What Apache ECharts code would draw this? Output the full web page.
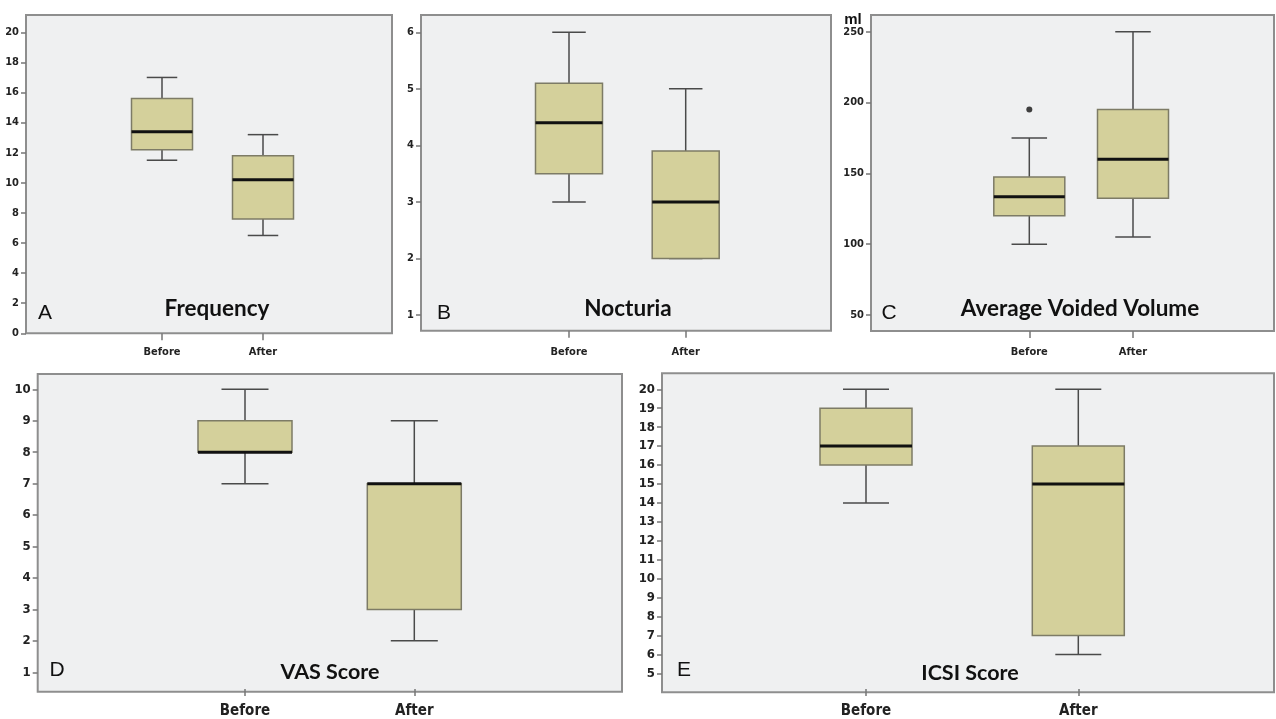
<!DOCTYPE html>
<html>
<head>
<meta charset="utf-8">
<script src="https://cdn.jsdelivr.net/npm/echarts@6/dist/echarts.min.js"></script>
<style>
  html, body { margin: 0; padding: 0; background: #ffffff; }
  #chart { width: 1276px; height: 719px; }
</style>
</head>
<body>
<div id="chart"></div>
<script>
// ---- data: [min, Q1, median, Q3, max] ----
const categories = ['Before', 'After'];
const frequencyBefore = [11.5, 12.2, 13.4, 15.6, 17.0];
const frequencyAfter  = [6.5, 7.6, 10.2, 11.8, 13.2];
const nocturiaBefore  = [3.0, 3.5, 4.4, 5.1, 6.0];
const nocturiaAfter   = [2.0, 2.0, 3.0, 3.9, 5.0];
const volumeBefore    = [100, 120, 133.5, 147.5, 175];
const volumeAfter     = [105, 132.5, 160, 195, 250];
const volumeOutliers  = [['Before', 195]];
const vasBefore       = [7, 8, 8, 9, 10];
const vasAfter        = [2, 3, 7, 7, 9];
const icsiBefore      = [14, 16, 17, 19, 20];
const icsiAfter       = [6, 7, 15, 17, 20];

// ---- axis ranges: [min, max, interval] ----
const frequencyTicks = [0, 20, 2];
const nocturiaTicks  = [1, 6, 1];
const volumeTicks    = [50, 250, 50];
const vasTicks       = [1, 10, 1];
const icsiTicks      = [5, 20, 1];

const panelTitles = ['Frequency', 'Nocturia', 'Average Voided Volume', 'VAS Score', 'ICSI Score'];
const panelLetters = ['A', 'B', 'C', 'D', 'E'];
const volumeUnit = 'ml';

// ---- layout (pixels) ----
const layouts = [
  { frame: [26, 15, 392, 333.3], tickY: [32.3, 333.3], catX: [162, 263], box: 61, yFont: 11, xFont: 11, xMargin: 13,
    title: [217, 309, 22.5], letter: [45, 313] },
  { frame: [421, 15, 831, 330.7], tickY: [32.3, 315], catX: [569, 685.7], box: 67, yFont: 11, xFont: 11, xMargin: 16,
    title: [628, 309, 22.5], letter: [444, 313] },
  { frame: [871, 15, 1274, 331], tickY: [31.7, 315], catX: [1029.3, 1133], box: 71, yFont: 11, xFont: 11, xMargin: 16,
    title: [1080, 309, 22.5], letter: [889, 313] },
  { frame: [37.7, 374, 622, 691.7], tickY: [389.3, 675], catX: [245, 414.3], box: 94, yFont: 13, xFont: 15, xMargin: 15,
    title: [330, 672, 21.5], letter: [57, 670] },
  { frame: [662, 373.3, 1274, 692.3], tickY: [389.3, 676.7], catX: [866, 1078.3], box: 92, yFont: 13, xFont: 15, xMargin: 15,
    title: [970, 673, 21.5], letter: [684, 670] }
];

const panelData = [
  [frequencyBefore, frequencyAfter],
  [nocturiaBefore, nocturiaAfter],
  [volumeBefore, volumeAfter],
  [vasBefore, vasAfter],
  [icsiBefore, icsiAfter]
];
const panelTicks = [frequencyTicks, nocturiaTicks, volumeTicks, vasTicks, icsiTicks];

const tickFont = '"DejaVu Sans Condensed", "Liberation Sans Narrow", "Arial Narrow", "Liberation Sans", sans-serif';
const titleFont = 'Lato, "Open Sans", sans-serif';
const letterFont = '"Liberation Sans", Arial, sans-serif';

const grids = [], xAxes = [], yAxes = [], series = [], graphics = [];

layouts.forEach((L, i) => {
  const [fx0, fy0, fx1, fy1] = L.frame;
  // frame grid
  grids.push({ left: fx0, top: fy0, width: fx1 - fx0, height: fy1 - fy0, show: true,
    backgroundColor: '#eff0f1', borderColor: '#8e8e8e', borderWidth: 2 });
  xAxes.push({ gridIndex: 2 * i, type: 'value', show: false });
  yAxes.push({ gridIndex: 2 * i, type: 'value', show: false });
  // data grid
  const spacing = L.catX[1] - L.catX[0];
  const gl = L.catX[0] - spacing / 2;
  grids.push({ left: gl, top: L.tickY[0], width: spacing * 2, height: L.tickY[1] - L.tickY[0], show: false });
  xAxes.push({
    gridIndex: 2 * i + 1, type: 'category', data: categories, boundaryGap: true,
    offset: fy1 - L.tickY[1],
    axisLine: { show: false },
    axisTick: { show: true, alignWithLabel: true, length: 7, lineStyle: { color: '#777', width: 1.5 } },
    axisLabel: { color: '#222', fontFamily: tickFont, fontWeight: 'bold', fontSize: L.xFont, margin: L.xMargin }
  });
  const T = panelTicks[i];
  yAxes.push({
    gridIndex: 2 * i + 1, type: 'value', min: T[0], max: T[1], interval: T[2],
    offset: gl - fx0,
    axisLine: { show: false },
    axisTick: { show: true, length: 5, lineStyle: { color: '#777', width: 1.5 } },
    splitLine: { show: false },
    axisLabel: { color: '#222', fontFamily: tickFont, fontWeight: 'bold', fontSize: L.yFont, margin: 7 }
  });
  const boxW = L.box;
  const data = panelData[i].map((v, k) => [k].concat(v));
  series.push({
    type: 'custom',
    xAxisIndex: 2 * i + 1, yAxisIndex: 2 * i + 1,
    encode: { x: 0, y: [1, 2, 3, 4, 5] },
    data: data,
    renderItem: function (params, api) {
      const k = api.value(0);
      const pMin = api.coord([k, api.value(1)]);
      const pQ1 = api.coord([k, api.value(2)]);
      const pMed = api.coord([k, api.value(3)]);
      const pQ3 = api.coord([k, api.value(4)]);
      const pMax = api.coord([k, api.value(5)]);
      const cx = pMed[0];
      const hw = boxW / 2, cw = boxW / 4;
      const wStyle = { stroke: '#4a4a4a', lineWidth: 1.5 };
      return {
        type: 'group',
        children: [
          { type: 'line', shape: { x1: cx, y1: pMax[1], x2: cx, y2: pQ3[1] }, style: wStyle },
          { type: 'line', shape: { x1: cx, y1: pMin[1], x2: cx, y2: pQ1[1] }, style: wStyle },
          { type: 'line', shape: { x1: cx - cw, y1: pMax[1], x2: cx + cw, y2: pMax[1] }, style: wStyle },
          { type: 'line', shape: { x1: cx - cw, y1: pMin[1], x2: cx + cw, y2: pMin[1] }, style: wStyle },
          { type: 'rect', shape: { x: cx - hw, y: pQ3[1], width: boxW, height: pQ1[1] - pQ3[1] },
            style: { fill: '#d4d09b', stroke: '#7d7b66', lineWidth: 1.5 } },
          { type: 'line', shape: { x1: cx - hw, y1: pMed[1], x2: cx + hw, y2: pMed[1] },
            style: { stroke: '#111', lineWidth: 3 } }
        ]
      };
    }
  });
  graphics.push({ type: 'text', x: L.title[0], y: L.title[1], z: 10,
    style: { text: panelTitles[i], font: 'bold ' + L.title[2] + 'px ' + titleFont, fill: '#111',
      textAlign: 'center', textVerticalAlign: 'middle' } });
  graphics.push({ type: 'text', x: L.letter[0], y: L.letter[1], z: 10,
    style: { text: panelLetters[i], font: '21px ' + letterFont, fill: '#111',
      textAlign: 'center', textVerticalAlign: 'middle' } });
});

// outlier on volume panel
series.push({
  type: 'scatter', xAxisIndex: 5, yAxisIndex: 5,
  data: volumeOutliers, symbol: 'circle', symbolSize: 6,
  itemStyle: { color: '#111' }
});

graphics.push({ type: 'text', x: 853, y: 20, z: 10,
  style: { text: volumeUnit, font: 'bold 15px ' + letterFont, fill: '#111',
    textAlign: 'center', textVerticalAlign: 'middle' } });

const chart = echarts.init(document.getElementById('chart'), null, { renderer: 'canvas' });
chart.setOption({
  backgroundColor: '#ffffff',
  animation: false,
  grid: grids,
  xAxis: xAxes,
  yAxis: yAxes,
  series: series,
  graphic: graphics
});
</script>
</body>
</html>
